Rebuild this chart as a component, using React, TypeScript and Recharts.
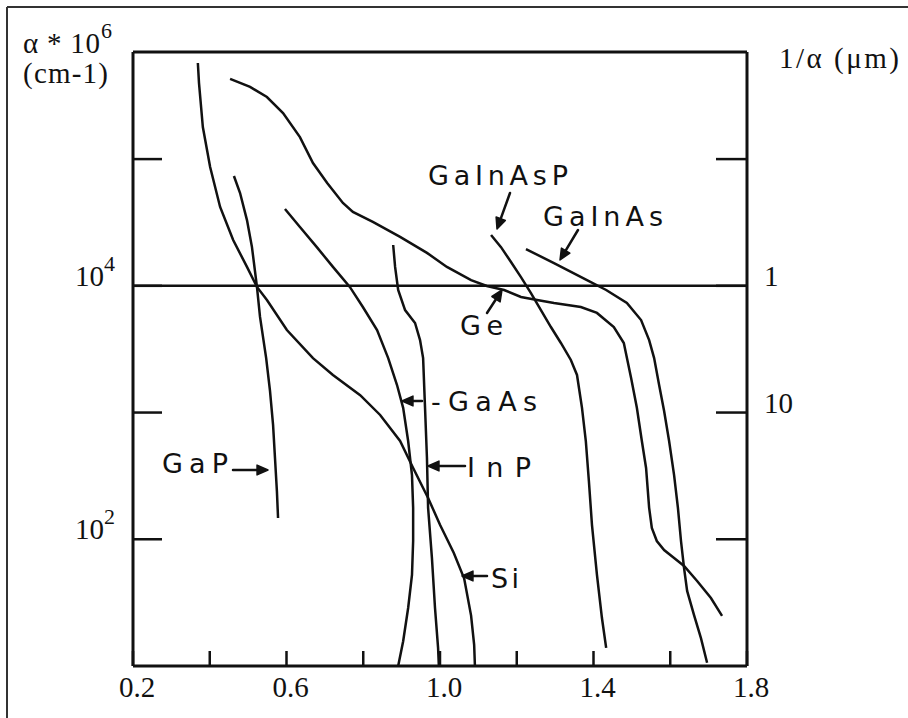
import { LineChart, Line, XAxis, YAxis, ReferenceLine } from 'recharts';

// wavelength (um) / absorption coefficient (cm-1)
const SI_UM = [0.369, 0.372, 0.382, 0.401, 0.427, 0.461, 0.497, 0.523, 0.549, 0.601, 0.669, 0.721, 0.792, 0.844, 0.896, 0.93, 0.969, 1.0, 1.036, 1.063, 1.081, 1.089, 1.091];
const SI_ALPHA = [573000, 398000, 179000, 86700, 41900, 23000, 14100, 9800, 7730, 4480, 2690, 1980, 1370, 957, 596, 365, 212, 130, 78, 49, 25, 14.7, 10];

const GE_UM = [0.453, 0.505, 0.549, 0.591, 0.635, 0.669, 0.706, 0.747, 0.773, 0.825, 0.896, 0.966, 1.018, 1.081, 1.122, 1.167, 1.211, 1.253, 1.297, 1.367, 1.409, 1.453, 1.479, 1.498, 1.513, 1.526, 1.537, 1.545, 1.552, 1.565, 1.584, 1.61, 1.636, 1.67, 1.706, 1.735];
const GE_ALPHA = [429000, 371000, 309000, 231000, 149000, 93000, 64700, 45100, 38300, 31900, 24300, 18200, 14100, 11100, 9970, 9270, 8160, 7730, 7310, 6800, 6110, 4730, 3540, 1870, 1090, 596, 365, 177, 123, 96.9, 82.2, 71.1, 61.5, 46.9, 34.4, 24.9];

const GAP_UM = [0.463, 0.479, 0.497, 0.51, 0.523, 0.531, 0.547, 0.557, 0.565, 0.57, 0.575, 0.578];
const GAP_ALPHA = [73600, 54000, 33000, 20200, 9800, 5680, 2690, 1480, 798, 438, 240, 147];

const GAAS_UM = [0.596, 0.635, 0.679, 0.721, 0.765, 0.799, 0.836, 0.865, 0.888, 0.904, 0.917, 0.927, 0.93, 0.93, 0.927, 0.917, 0.904, 0.891];
const GAAS_ALPHA = [40400, 29100, 20200, 14100, 9800, 6800, 4480, 2690, 1650, 1090, 596, 321, 177, 96.9, 52.3, 28.7, 15.7, 10];

const INP_UM = [0.878, 0.883, 0.891, 0.909, 0.935, 0.948, 0.956, 0.961, 0.966, 0.969, 0.979, 0.987, 0.995, 0.997];
const INP_ALPHA = [21000, 14100, 9270, 6440, 5090, 3730, 2690, 1090, 438, 177, 71.1, 28.7, 13.9, 10];

const GAINASP_UM = [1.133, 1.159, 1.185, 1.211, 1.237, 1.263, 1.289, 1.315, 1.341, 1.357, 1.37, 1.38, 1.388, 1.396, 1.409, 1.422, 1.433];
const GAINASP_ALPHA = [25200, 20200, 15400, 11700, 8770, 6440, 4730, 3540, 2600, 1980, 1090, 596, 288, 130, 52.3, 23.9, 13.9];

const GAINAS_UM = [1.224, 1.297, 1.383, 1.433, 1.487, 1.524, 1.545, 1.558, 1.571, 1.584, 1.597, 1.61, 1.62, 1.628, 1.636, 1.644, 1.662, 1.68, 1.696];
const GAINAS_ALPHA = [19500, 15100, 11100, 9270, 7310, 5370, 3730, 2690, 1650, 1030, 596, 321, 177, 96.9, 59.3, 39.1, 25.2, 16.6, 10.6];

const X_TICKS = [0.2, 0.4, 0.6, 0.8, 1.0, 1.2, 1.4, 1.6, 1.8];
const X_LABELS = [0.2, 0.6, 1.0, 1.4, 1.8];
const Y_TICKS = [100, 1000, 10000, 100000];
const Y_LEFT_LABELS = [10000, 100];
const Y_RIGHT_LABELS = [10000, 1000];

const toPoints = (xs: number[], ys: number[]) => xs.map((x, i) => ({ x, y: ys[i] }));

const SERIES = [
  { name: 'Si', points: toPoints(SI_UM, SI_ALPHA) },
  { name: 'Ge', points: toPoints(GE_UM, GE_ALPHA) },
  { name: 'GaP', points: toPoints(GAP_UM, GAP_ALPHA) },
  { name: 'GaAs', points: toPoints(GAAS_UM, GAAS_ALPHA) },
  { name: 'InP', points: toPoints(INP_UM, INP_ALPHA) },
  { name: 'GaInAsP', points: toPoints(GAINASP_UM, GAINASP_ALPHA) },
  { name: 'GaInAs', points: toPoints(GAINAS_UM, GAINAS_ALPHA) },
];

const SERIF = '"Liberation Serif", "Times New Roman", serif';
const SANS = '"DejaVu Sans", "Open Sans", sans-serif';
const INK = '#111';

const near = (list: number[], v: number) => list.some((t) => Math.abs(t - v) < 1e-6 * Math.max(1, Math.abs(t)));

const XTick = (props: any) => {
  const { x, y, payload } = props;
  const v = payload.value;
  return (
    <g>
      <line x1={x} y1={y} x2={x} y2={y - 15} stroke={INK} strokeWidth={2.5} />
      {near(X_LABELS, v) && (
        <text x={x + 4} y={y + 31} textAnchor="middle" fontFamily={SERIF} fontSize={29} fill={INK}>
          {v.toFixed(1)}
        </text>
      )}
    </g>
  );
};

const LeftTick = (props: any) => {
  const { x, y, payload } = props;
  const v = payload.value;
  return (
    <g>
      <line x1={x} y1={y} x2={x + 29} y2={y} stroke={INK} strokeWidth={2.5} />
      {near(Y_LEFT_LABELS, v) && (
        <text x={x - 18} y={y} textAnchor="end" fontFamily={SERIF} fontSize={29} fill={INK}>
          10<tspan dy={-15} fontSize={22}>{Math.round(Math.log10(v))}</tspan>
        </text>
      )}
    </g>
  );
};

const RightTick = (props: any) => {
  const { x, y, payload } = props;
  const v = payload.value;
  return (
    <g>
      <line x1={x} y1={y} x2={x - 31} y2={y} stroke={INK} strokeWidth={2.5} />
      {near(Y_RIGHT_LABELS, v) && (
        <text x={x + 17} y={y} textAnchor="start" fontFamily={SERIF} fontSize={29} fill={INK}>
          {10000 / v}
        </text>
      )}
    </g>
  );
};

function Arrow({ x1, y1, x2, y2 }: { x1: number; y1: number; x2: number; y2: number }) {
  const a = Math.atan2(y2 - y1, x2 - x1);
  const h = 12;
  const s = 0.42;
  const p1 = `${x2 - h * Math.cos(a - s)},${y2 - h * Math.sin(a - s)}`;
  const p2 = `${x2 - h * Math.cos(a + s)},${y2 - h * Math.sin(a + s)}`;
  return (
    <g stroke={INK} strokeWidth={2.5} strokeLinecap="round" strokeLinejoin="round">
      <line x1={x1} y1={y1} x2={x2 - 6 * Math.cos(a)} y2={y2 - 6 * Math.sin(a)} />
      <polygon points={`${p1} ${x2},${y2} ${p2}`} fill={INK} strokeWidth={1.5} />
    </g>
  );
}

function Note({ x, y, w, children }: { x: number; y: number; w: number; children: string }) {
  return (
    <text x={x} y={y} fontFamily={SANS} fontSize={27} fill={INK} textLength={w} lengthAdjust="spacing">
      {children}
    </text>
  );
}

export default function App() {
  return (
    <div style={{ position: 'absolute', left: 0, top: 0, width: 908, height: 718, background: '#fff' }}>
      <LineChart width={908} height={718} margin={{ top: 52, right: 101, bottom: 22, left: 73 }}>
        <XAxis
          type="number"
          dataKey="x"
          domain={[0.2, 1.8]}
          ticks={X_TICKS}
          interval={0}
          allowDataOverflow
          height={30}
          tickSize={0}
          tickMargin={0}
          tickLine={false}
          tick={XTick}
          axisLine={{ stroke: INK, strokeWidth: 3 }}
        />
        <YAxis
          yAxisId="l"
          type="number"
          scale="log"
          domain={[10, 700000]}
          ticks={Y_TICKS}
          interval={0}
          allowDataOverflow
          width={60}
          tickSize={0}
          tickMargin={0}
          tickLine={false}
          tick={LeftTick}
          axisLine={{ stroke: INK, strokeWidth: 3 }}
        />
        <YAxis
          yAxisId="r"
          orientation="right"
          type="number"
          scale="log"
          domain={[10, 700000]}
          ticks={Y_TICKS}
          interval={0}
          allowDataOverflow
          width={60}
          tickSize={0}
          tickMargin={0}
          tickLine={false}
          tick={RightTick}
          axisLine={{ stroke: INK, strokeWidth: 3 }}
        />
        <ReferenceLine yAxisId="l" y={10000} stroke={INK} strokeWidth={2.5} />
        <ReferenceLine yAxisId="l" y={700000} stroke={INK} strokeWidth={3} />
        {SERIES.map((s) => (
          <Line
            key={s.name}
            name={s.name}
            yAxisId="l"
            data={s.points}
            dataKey="y"
            type="linear"
            stroke={INK}
            strokeWidth={2.5}
            dot={false}
            isAnimationActive={false}
          />
        ))}
      </LineChart>

      <svg width={908} height={718} style={{ position: 'absolute', left: 0, top: 0, pointerEvents: 'none' }}>
        <line x1={7} y1={7} x2={908} y2={7} stroke="#333" strokeWidth={2} />
        <line x1={7} y1={7} x2={7} y2={718} stroke="#333" strokeWidth={2} />

        <text x={23} y={53} fontFamily={SERIF} fontSize={29} fill={INK} textLength={77} lengthAdjust="spacing">
          α * 10
        </text>
        <text x={101} y={38} fontFamily={SERIF} fontSize={22} fill={INK}>6</text>
        <text x={23} y={83} fontFamily={SERIF} fontSize={29} fill={INK} textLength={85} lengthAdjust="spacing">
          (cm-1)
        </text>
        <text x={779} y={68} fontFamily={SERIF} fontSize={29} fill={INK} textLength={120} lengthAdjust="spacing">
          1/α  (μm)
        </text>

        <Note x={428} y={185} w={140}>GaInAsP</Note>
        <Arrow x1={510} y1={193} x2={497} y2={229} />
        <Note x={543} y={226} w={120}>GaInAs</Note>
        <Arrow x1={578} y1={230} x2={560} y2={260} />
        <Note x={460} y={335} w={43}>Ge</Note>
        <Arrow x1={487} y1={313} x2={502} y2={290} />
        <Arrow x1={422} y1={401} x2={402} y2={401} />
        <Note x={431} y={411} w={106}>-GaAs</Note>
        <Arrow x1={465} y1={466} x2={428} y2={466} />
        <Note x={467} y={477} w={64}>InP</Note>
        <Arrow x1={487} y1={576} x2={462} y2={576} />
        <Note x={491} y={588} w={28}>Si</Note>
        <Note x={162} y={473} w={66}>GaP</Note>
        <Arrow x1={233} y1={470} x2={268} y2={470} />
      </svg>
    </div>
  );
}
